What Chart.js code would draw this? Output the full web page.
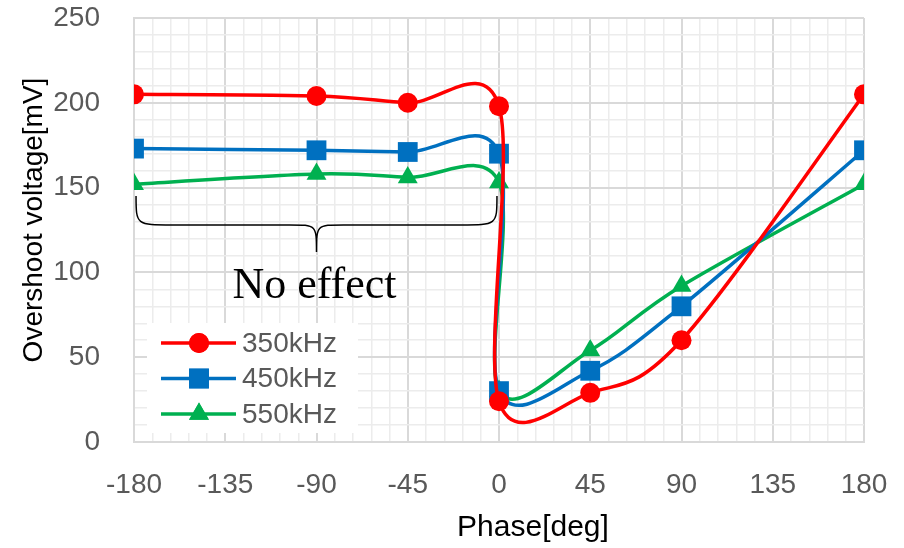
<!DOCTYPE html>
<html>
<head>
<meta charset="utf-8">
<script src="https://cdn.jsdelivr.net/npm/chart.js@4.4.0/dist/chart.umd.min.js"></script>
<style>
  html, body { margin: 0; padding: 0; background: #fff; }
</style>
</head>
<body>
<canvas id="chart" width="904" height="548"></canvas>
<script>
// ============================================================
// DATA — overshoot voltage vs phase
// ============================================================
const PHASE   = [-180, -90, -45, 0, 0, 45, 90, 180];
const V_350   = [205, 204, 200, 198, 24, 29, 60, 205];
const V_450   = [173, 172, 171, 170, 30, 42, 80, 172];
const V_550   = [152, 158, 156, 153, 30, 54, 92, 152];
const SERIES  = ['350kHz', '450kHz', '550kHz'];
const X_TICKS = [-180, -135, -90, -45, 0, 45, 90, 135, 180];
const Y_TICKS = [0, 50, 100, 150, 200, 250];

// brace annotation ("No effect" region), in data units
const BRACE_FROM = -179, BRACE_TO = -1;
const BRACE_TOP = 145, BRACE_MID = 128, BRACE_TIP = 112;
const NOTE_TEXT = 'No effect';
const NOTE_AT   = { x: -91, y: 85 };

const COLORS  = ['#FF0000', '#0070C0', '#00B050'];
const MARKERS = ['circle', 'rect', 'triangle'];
const RADII   = [10, 14, 11.5];
const GRAY    = '#595959';
const SANS    = '"Liberation Sans", Arial, sans-serif';

const toPoints = ys => PHASE.map((x, i) => ({ x, y: ys[i] }));

const datasets = [V_350, V_450, V_550].map((ys, i) => ({
  label: SERIES[i],
  data: toPoints(ys),
  borderColor: COLORS[i],
  backgroundColor: COLORS[i],
  borderWidth: 3.5,
  pointStyle: MARKERS[i],
  pointRadius: RADII[i],
  pointBorderWidth: 0,
  tension: 0.4,
  fill: false,
}));

// ============================================================
// SPREADSHEET-STYLE SMOOTHING — control points at ±(next-prev)/6
// ============================================================
const smoothing = {
  id: 'smoothing',
  beforeDatasetDraw(chart, args) {
    const line = args.meta.dataset;
    line.updateControlPoints(chart.chartArea, 'x');
    const pts = args.meta.data;
    pts.forEach((p, i) => {
      const a = pts[i - 1] || p, b = pts[i + 1] || p;
      const dx = (b.x - a.x) / 6, dy = (b.y - a.y) / 6;
      p.cp1x = p.x - dx; p.cp1y = p.y - dy;
      p.cp2x = p.x + dx; p.cp2y = p.y + dy;
    });
    delete line._path;
  }
};

// ============================================================
// EXTRAS — legend box, brace, axis titles
// ============================================================
const extras = {
  id: 'extras',
  afterDatasetsDraw(chart) {
    const { ctx, chartArea: a, scales: { x, y } } = chart;
    ctx.save();

    // legend inside plot
    const lx = a.left + 13, ly = a.bottom - 119;
    ctx.fillStyle = '#fff';
    ctx.fillRect(lx, ly, 211, 110);
    chart.data.datasets.forEach((ds, i) => {
      const cy = ly + 20 + i * 35.5;
      ctx.strokeStyle = ds.borderColor;
      ctx.lineWidth = 3.5;
      ctx.beginPath();
      ctx.moveTo(lx + 14, cy);
      ctx.lineTo(lx + 89, cy);
      ctx.stroke();
      ctx.fillStyle = ds.backgroundColor;
      Chart.helpers.drawPoint(ctx, { pointStyle: ds.pointStyle, radius: ds.pointRadius, rotation: 0, borderWidth: 0 }, lx + 52, cy);
      ctx.fill();
      ctx.fillStyle = GRAY;
      ctx.font = '28px ' + SANS;
      ctx.textAlign = 'left';
      ctx.textBaseline = 'middle';
      ctx.fillText(ds.label, lx + 95, cy + 1);
    });

    // brace
    const x0 = x.getPixelForValue(BRACE_FROM), x1 = x.getPixelForValue(BRACE_TO);
    const xc = (x0 + x1) / 2;
    const yt = y.getPixelForValue(BRACE_TOP), ym = y.getPixelForValue(BRACE_MID), yp = y.getPixelForValue(BRACE_TIP);
    const r = 37, r2 = 27;
    ctx.strokeStyle = '#000';
    ctx.lineWidth = 1.5;
    ctx.beginPath();
    ctx.moveTo(x0, yt);
    ctx.bezierCurveTo(x0, ym, x0, ym, x0 + r, ym);
    ctx.lineTo(xc - r2, ym);
    ctx.bezierCurveTo(xc, ym, xc, ym, xc, yp);
    ctx.bezierCurveTo(xc, ym, xc, ym, xc + r2, ym);
    ctx.lineTo(x1 - r, ym);
    ctx.bezierCurveTo(x1, ym, x1, ym, x1, yt);
    ctx.stroke();

    ctx.fillStyle = '#000';
    ctx.font = '44px "Liberation Serif", "Times New Roman", serif';
    ctx.textAlign = 'center';
    ctx.textBaseline = 'alphabetic';
    ctx.fillText(NOTE_TEXT, x.getPixelForValue(NOTE_AT.x), y.getPixelForValue(NOTE_AT.y));

    // axis titles
    ctx.font = '30px ' + SANS;
    ctx.textBaseline = 'middle';
    ctx.fillText('Phase[deg]', 533, 528);
    ctx.translate(34, 220);
    ctx.rotate(-Math.PI / 2);
    ctx.font = '28px ' + SANS;
    ctx.fillText('Overshoot voltage[mV]', 0, 0);
    ctx.restore();
  }
};

// ============================================================
// CHART
// ============================================================
new Chart(document.getElementById('chart'), {
  type: 'line',
  data: { datasets },
  plugins: [smoothing, extras],
  options: {
    responsive: false,
    animation: false,
    layout: { padding: { top: 18, right: 40, left: 0, bottom: 0 } },
    plugins: {
      legend: { display: false },
      tooltip: { enabled: false },
    },
    scales: {
      x: {
        type: 'linear',
        min: -180, max: 180,
        afterFit: s => { s.height = 106; s.paddingLeft = 0; s.paddingRight = 0; },
        afterBuildTicks: s => {
          const t = [];
          for (let v = -180; v <= 180; v += 9) t.push({ value: v });
          s.ticks = t;
        },
        ticks: {
          autoSkip: false, maxRotation: 0, padding: 26,
          color: GRAY, font: { size: 28, family: SANS },
          callback: v => X_TICKS.includes(v) ? String(v) : '',
        },
        grid: {
          drawTicks: false,
          color: c => X_TICKS.includes(c.tick.value) ? '#d9d9d9' : '#ececec',
          lineWidth: c => X_TICKS.includes(c.tick.value) ? 2 : 1.5,
        },
        border: { color: '#d9d9d9', width: 2 },
      },
      y: {
        min: 0, max: 250,
        afterFit: s => { s.width = 134; s.paddingTop = 0; s.paddingBottom = 0; },
        afterBuildTicks: s => {
          const t = [];
          for (let v = 0; v <= 250; v += 10) t.push({ value: v });
          s.ticks = t;
        },
        ticks: {
          autoSkip: false, padding: 34,
          color: GRAY, font: { size: 28, family: SANS },
          callback: v => Y_TICKS.includes(v) ? String(v) : '',
        },
        grid: {
          drawTicks: false,
          color: c => Y_TICKS.includes(c.tick.value) ? '#d9d9d9' : '#ececec',
          lineWidth: c => Y_TICKS.includes(c.tick.value) ? 2 : 1.5,
        },
        border: { color: '#d9d9d9', width: 2 },
      }
    }
  }
});
</script>
</body>
</html>
